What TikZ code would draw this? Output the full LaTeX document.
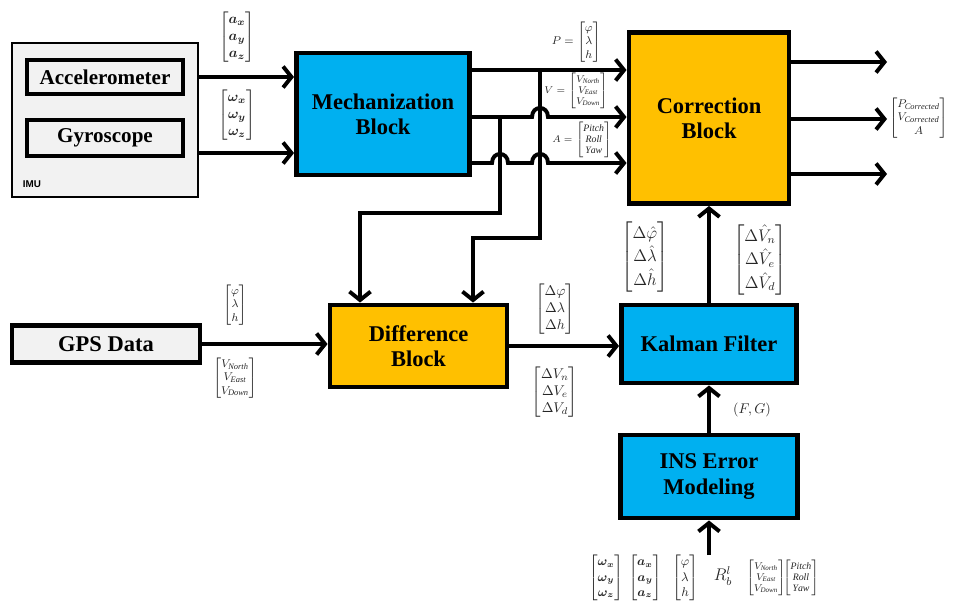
\documentclass[tikz,border=0pt]{standalone}
\usepackage{amsmath}
\usepackage{fontspec}
\setmainfont{Liberation Serif}
\setsansfont{Liberation Sans}
\usetikzlibrary{arrows.meta}

\definecolor{blockblue}{HTML}{00B0F0}
\definecolor{blockorange}{HTML}{FFC000}
\definecolor{boxgray}{HTML}{F2F2F2}

\begin{document}
\begin{tikzpicture}[x=0.25mm,y=-0.25mm,>={Straight Barb[length=6pt,width=15pt]},
    wire/.style={line width=2.8pt},
    block/.style={draw,line width=3.5pt,align=center,inner sep=0pt,font=\fontsize{16}{18}\selectfont\bfseries},
    blue block/.style={block,fill=blockblue},
    orange block/.style={block,fill=blockorange},
    sensor/.style={block,fill=boxgray,font=\fontsize{15}{17}\selectfont\bfseries},
    vec/.style={inner sep=0pt,text=black!85},
    hatvec/.style={vec,font=\large\renewcommand\arraystretch{1.2}}]

  \useasboundingbox (0,0) rectangle (959,602);

  % IMU with its two sensors
  \node[draw,line width=1.5pt,fill=boxgray,minimum width=46.5mm,minimum height=38.5mm] (imu) at (105,120) {};
  \node[font=\sffamily\bfseries\fontsize{7}{8}\selectfont,anchor=south west] (imulabel) at (imu.south west) [xshift=5pt,yshift=4pt] {IMU};
  \node[sensor,minimum width=39mm,minimum height=8.5mm] (acc) at (105,77) {Accelerometer};
  \node[sensor,minimum width=39mm,minimum height=9mm] (gyro) at (105,138) {Gyroscope};

  % main blocks
  \node[blue block,minimum width=43.25mm,minimum height=30.5mm] (mech) at (383,114) {Mechanization\\Block};
  \node[orange block,minimum width=40mm,minimum height=42.75mm] (corr) at (709,118) {Correction\\Block};
  \node[sensor,font=\fontsize{16}{18}\selectfont\bfseries,minimum width=47mm,minimum height=9.25mm] (gps) at (106,344) {GPS Data};
  \node[orange block,minimum width=44.25mm,minimum height=20.5mm] (diff) at (418.5,346) {Difference\\Block};
  \node[blue block,minimum width=43.75mm,minimum height=19.5mm] (kf) at (709,344) {Kalman Filter};
  \node[blue block,minimum width=44.25mm,minimum height=20.75mm] (ins) at (709,476.5) {INS Error\\Modeling};

  % free ends
  \coordinate (gyroout) at (198,153);
  \coordinate (mP) at (470,70);
  \coordinate (mV) at (470,117);
  \coordinate (mA) at (470,163);
  \coordinate (t1) at (360,213);
  \coordinate (t2) at (473,238);
  \coordinate (o1) at (887,62);
  \coordinate (o2) at (887,119);
  \coordinate (o3) at (887,174);
  \coordinate (insin) at (709,555);

  % IMU -> mechanization
  \draw[wire,->] (imu.east |- acc) -- (mech.west |- acc);
  \draw[wire,->] (gyroout) -- (mech.west |- gyroout);

  % mechanization -> correction, with hops over the taps
  \draw[wire,->] (mP) -- (mP -| corr.west);
  \draw[wire,->] (mV) -- (532,117) .. controls (532,105) and (548,105) .. (548,117) -- (mV -| corr.west);
  \draw[wire,->] (mA) -- (492,163) .. controls (492,151) and (508,151) .. (508,163)
    -- (532,163) .. controls (532,151) and (548,151) .. (548,163) -- (mA -| corr.west);

  % taps down to the difference block
  \draw[wire,->] (540,70) -- (540,238) -- (t2) -- (t2 |- diff.north);
  \draw[wire,->] (500,117) -- (500,213) -- (t1) -- (t1 |- diff.north);

  % corrected outputs
  \draw[wire,->] (corr.east |- o1) -- (o1);
  \draw[wire,->] (corr.east |- o2) -- (o2);
  \draw[wire,->] (corr.east |- o3) -- (o3);

  % lower chain
  \draw[wire,->] (gps.east) -- (diff.west |- gps.east);
  \draw[wire,->] (diff.east) -- (kf.west |- diff.east);
  \draw[wire,->] (kf) -- (corr);
  \draw[wire,->] (ins) -- (kf);
  \draw[wire,->] (insin) -- (ins);

  % signal labels
  \node[vec] (avec) at (237,37) {$\begin{bmatrix}\boldsymbol{a_x}\\ \boldsymbol{a_y}\\ \boldsymbol{a_z}\end{bmatrix}$};
  \node[vec] (wvec) at (237,115) {$\begin{bmatrix}\boldsymbol{\omega_x}\\ \boldsymbol{\omega_y}\\ \boldsymbol{\omega_z}\end{bmatrix}$};
  \node[vec,font=\footnotesize,anchor=east] (Pvec) at (601,42) {$P=\begin{bmatrix}\varphi\\ \lambda\\ h\end{bmatrix}$};
  \node[vec,font=\scriptsize,anchor=east] (Vvec) at (608,91) {$V=\begin{bmatrix}V_{\mathit{North}}\\ V_{\mathit{East}}\\ V_{\mathit{Down}}\end{bmatrix}$};
  \node[vec,font=\scriptsize,anchor=east] (Avec) at (612,140) {$A=\begin{bmatrix}\mathit{Pitch}\\ \mathit{Roll}\\ \mathit{Yaw}\end{bmatrix}$};
  \node[vec,font=\footnotesize,anchor=west] (outvec) at (889,118) {$\begin{bmatrix}P_{\mathit{Corrected}}\\ V_{\mathit{Corrected}}\\ A\end{bmatrix}$};

  \node[vec,font=\footnotesize] (gpsP) at (235,305) {$\begin{bmatrix}\varphi\\ \lambda\\ h\end{bmatrix}$};
  \node[vec,font=\footnotesize] (gpsV) at (235,378) {$\begin{bmatrix}V_{\mathit{North}}\\ V_{\mathit{East}}\\ V_{\mathit{Down}}\end{bmatrix}$};
  \node[vec] (dP) at (555,309) {$\begin{bmatrix}\Delta\varphi\\ \Delta\lambda\\ \Delta h\end{bmatrix}$};
  \node[vec] (dV) at (555,392) {$\begin{bmatrix}\Delta V_n\\ \Delta V_e\\ \Delta V_d\end{bmatrix}$};
  \node[hatvec] (hP) at (645,257) {$\begin{bmatrix}\Delta\hat{\varphi}\\ \Delta\hat{\lambda}\\ \Delta\hat{h}\end{bmatrix}$};
  \node[hatvec] (hV) at (760,260) {$\begin{bmatrix}\Delta\hat{V}_n\\ \Delta\hat{V}_e\\ \Delta\hat{V}_d\end{bmatrix}$};
  \node[vec] (FG) at (752,410) {$(F,G)$};

  % inputs of the error model
  \node[vec,font=\small] (in1) at (606,578) {$\begin{bmatrix}\boldsymbol{\omega_x}\\ \boldsymbol{\omega_y}\\ \boldsymbol{\omega_z}\end{bmatrix}$};
  \node[vec,font=\small] (in2) at (645,578) {$\begin{bmatrix}\boldsymbol{a_x}\\ \boldsymbol{a_y}\\ \boldsymbol{a_z}\end{bmatrix}$};
  \node[vec,font=\small] (in3) at (685,578) {$\begin{bmatrix}\varphi\\ \lambda\\ h\end{bmatrix}$};
  \node[vec,font=\large] (in4) at (723,576) {$R_b^l$};
  \node[vec,font=\scriptsize] (in5) at (766,578) {$\begin{bmatrix}V_{\mathit{North}}\\ V_{\mathit{East}}\\ V_{\mathit{Down}}\end{bmatrix}$};
  \node[vec,font=\scriptsize] (in6) at (801,578) {$\begin{bmatrix}\mathit{Pitch}\\ \mathit{Roll}\\ \mathit{Yaw}\end{bmatrix}$};

\end{tikzpicture}
\end{document}
